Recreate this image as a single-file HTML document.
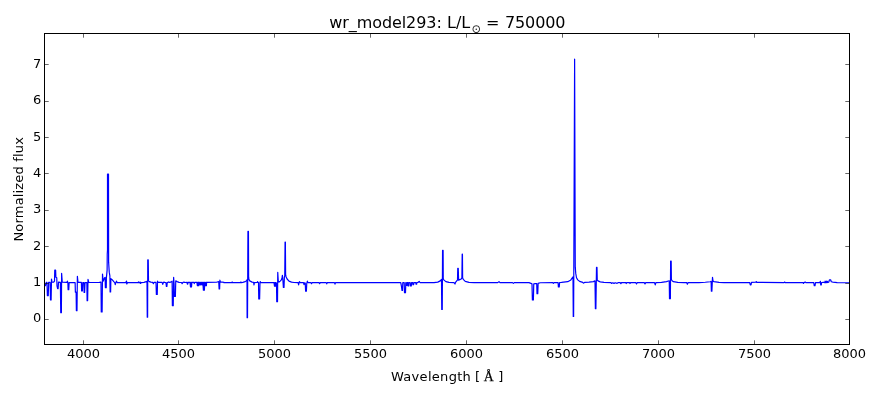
<!DOCTYPE html>
<html><head><meta charset="utf-8"><title>wr_model293</title>
<style>
html,body{margin:0;padding:0;background:#fff;}
body{width:880px;height:400px;overflow:hidden;}
svg{display:block;}
text{font-family:"DejaVu Sans","Liberation Sans",sans-serif;fill:#000;font-variant-ligatures:none;}
.t{font-size:13px;}
.ser{font-family:"DejaVu Serif","Liberation Serif",serif;}
</style></head><body>
<svg width="880" height="400" viewBox="0 0 880 400">
<rect x="0" y="0" width="880" height="400" fill="#fff"/>
<clipPath id="c"><rect x="44.5" y="33.5" width="805" height="311"/></clipPath>
<polyline clip-path="url(#c)" fill="none" stroke="#0000ff" stroke-width="1.2" stroke-linejoin="round" points="44.50,284.15 45.50,285.65 46.25,282.40 47.00,282.40 47.38,295.65 48.25,295.65 48.62,282.40 50.12,282.40 50.50,299.90 51.12,299.90 51.50,279.02 52.00,282.15 53.50,282.27 54.50,281.15 54.75,270.15 55.62,270.15 55.88,277.15 56.75,277.65 57.00,285.90 57.62,288.65 58.12,288.65 58.50,282.15 60.38,282.40 60.75,312.77 61.38,312.77 61.62,273.27 62.25,282.15 67.00,282.40 67.38,281.15 67.88,282.65 68.12,289.65 68.75,289.65 69.12,282.65 75.12,282.65 75.38,292.15 76.12,292.15 76.38,310.65 77.00,310.65 77.38,276.27 78.00,282.40 81.38,282.40 81.62,290.90 82.38,290.90 82.75,282.65 83.88,282.65 84.12,292.40 84.62,292.40 85.00,282.65 86.88,282.65 87.12,300.65 87.62,300.65 88.00,279.40 88.75,282.40 99.00,282.52 100.50,282.15 101.00,282.15 101.25,311.90 102.12,311.90 102.50,274.02 103.12,281.15 104.62,277.77 105.12,277.40 105.38,287.77 106.25,287.77 106.38,278.15 107.12,270.15 107.25,254.15 107.50,250.15 107.50,174.15 108.50,174.15 108.62,262.15 109.25,272.15 109.88,275.90 110.12,291.90 110.62,291.90 110.88,278.65 112.12,279.65 114.00,281.90 114.75,282.65 115.25,284.65 115.75,282.65 116.50,281.15 117.25,282.65 125.88,282.65 126.50,281.15 127.00,283.65 127.50,282.52 139.00,282.65 140.25,282.15 140.88,283.15 141.50,282.52 144.00,282.52 125.88,282.52 126.38,281.15 126.75,284.02 127.25,282.52 138.00,282.65 138.38,281.90 138.75,282.65 140.00,282.65 140.38,283.40 140.75,282.65 144.00,282.40 146.25,281.65 147.00,281.40 147.25,317.15 147.62,317.15 147.75,259.90 148.25,259.90 148.50,280.90 149.38,281.65 150.88,282.15 152.75,282.40 153.38,283.65 154.00,282.40 156.00,282.40 156.38,294.40 157.25,294.40 157.50,281.15 158.00,282.40 162.12,282.40 162.75,284.40 163.38,282.65 164.00,282.02 164.62,282.52 166.00,282.65 166.38,286.52 166.88,286.52 167.25,282.65 168.38,281.90 169.00,282.40 170.88,282.15 172.12,281.15 172.38,305.65 173.25,305.65 173.62,277.40 174.12,284.65 174.38,296.52 175.38,296.52 175.75,280.90 177.12,281.65 179.00,282.40 181.50,282.52 182.12,283.65 182.75,282.65 184.00,282.02 184.62,282.52 186.88,282.40 187.38,284.15 187.62,282.40 187.75,284.15 188.12,282.40 190.00,282.40 190.50,287.02 190.75,282.40 191.00,287.02 191.25,282.40 191.50,287.02 191.88,282.40 193.88,282.40 194.25,283.65 194.62,282.40 196.88,282.40 197.38,285.77 197.62,282.40 197.88,285.77 198.12,282.40 198.38,285.77 198.62,282.40 198.75,285.77 199.00,282.40 199.25,284.90 199.62,282.40 200.00,284.65 200.38,282.40 200.75,284.90 201.12,282.40 201.50,284.65 201.88,282.40 202.25,284.90 202.62,282.40 202.88,282.40 203.38,290.15 203.62,282.40 203.88,290.15 204.12,282.40 204.38,290.15 204.75,282.40 205.25,282.40 205.88,285.77 206.12,282.40 206.38,285.77 206.62,282.40 207.00,282.40 216.50,282.27 218.00,281.77 218.75,281.65 219.12,288.90 219.62,288.90 219.88,280.15 220.38,281.90 224.00,282.40 224.00,282.65 231.75,282.65 232.12,281.90 232.50,282.65 240.50,282.65 240.88,281.90 241.25,282.65 242.75,282.40 245.25,281.65 246.50,280.65 247.00,279.90 247.12,317.77 247.50,317.77 247.94,231.40 248.44,231.40 248.62,277.15 248.88,279.40 249.75,280.90 252.12,282.15 253.62,282.40 254.00,284.90 254.38,282.65 257.12,282.40 257.50,281.65 258.00,282.52 258.50,282.65 258.75,299.02 259.62,299.02 260.00,281.90 260.38,281.65 260.88,282.65 274.00,282.65 274.50,286.15 274.75,282.65 275.00,286.15 275.25,282.65 275.50,286.15 275.75,282.65 276.00,286.15 276.25,282.90 276.50,283.15 276.75,301.77 277.50,301.77 277.75,272.40 278.25,280.90 279.00,282.15 280.25,281.15 281.50,279.65 282.12,277.15 282.38,275.27 282.88,279.65 283.38,287.40 284.00,287.40 284.38,277.15 284.75,275.90 285.06,242.03 285.38,242.03 285.62,274.65 286.12,276.90 287.12,279.02 289.00,281.15 291.50,282.15 294.00,282.52 298.12,282.65 298.62,284.90 299.00,282.65 299.62,281.65 300.12,282.65 303.50,282.65 304.00,284.65 304.50,282.90 305.25,283.15 305.62,291.15 306.38,291.15 306.75,283.40 307.38,281.15 307.88,282.65 311.00,282.65 311.50,283.65 312.00,282.65 319.00,282.65 319.62,283.65 320.25,282.65 324.00,282.65 324.00,282.65 326.25,282.65 326.75,283.90 327.25,282.65 334.50,282.65 335.00,284.15 335.50,282.65 394.00,282.65 394.00,282.65 400.75,282.65 401.50,286.65 402.00,290.40 402.50,290.40 402.80,282.65 404.20,282.65 404.50,292.65 405.50,292.65 405.80,282.65 406.00,282.65 406.15,285.40 406.85,285.40 407.00,282.65 407.90,282.65 408.10,285.90 408.65,285.90 408.85,282.65 410.15,282.65 410.40,285.90 411.30,285.90 411.55,282.65 412.65,282.65 412.90,284.55 413.60,284.55 413.85,282.65 415.85,282.65 416.05,284.15 416.65,284.15 416.85,282.65 417.90,282.50 418.75,281.75 419.25,281.40 419.75,282.05 420.25,282.65 424.00,282.65 424.00,282.65 434.00,282.65 437.75,282.15 440.25,280.90 441.50,279.40 441.75,309.40 442.25,309.40 442.56,250.40 443.12,250.40 443.25,278.40 443.75,279.90 445.88,281.65 449.00,282.40 454.00,282.65 455.00,284.02 455.50,282.40 456.75,280.77 457.50,280.15 457.75,268.27 458.25,268.27 458.62,280.15 460.25,279.40 461.50,278.65 461.88,277.77 462.19,254.15 462.44,254.15 462.62,277.77 463.25,279.40 465.25,281.40 469.00,282.40 474.00,282.65 497.75,282.65 499.00,281.65 500.00,282.65 512.50,282.65 513.38,283.40 514.25,282.65 524.00,282.65 524.00,282.65 529.00,282.65 530.88,283.40 532.00,283.90 532.38,299.90 533.38,299.90 533.75,283.90 535.25,283.65 536.75,283.65 537.00,293.65 537.75,293.65 538.12,283.40 540.25,282.77 552.75,282.65 553.38,283.40 554.00,282.65 558.12,282.65 558.38,286.90 559.25,286.90 559.62,282.52 561.50,282.40 567.75,281.65 570.88,279.90 572.25,277.77 573.00,276.90 573.25,316.52 573.62,316.52 574.62,59.15 575.25,267.15 575.75,273.40 576.50,277.77 577.75,279.90 579.62,281.40 582.75,282.40 583.75,283.15 584.62,282.40 589.00,282.15 593.38,281.65 595.00,280.90 595.38,308.65 595.88,308.65 596.50,267.40 597.00,267.40 597.25,280.15 598.00,280.90 600.25,281.90 604.00,282.40 610.88,282.65 611.50,283.40 612.75,282.77 614.00,283.40 615.25,282.77 617.12,283.40 618.00,282.65 620.25,282.65 620.88,283.65 621.50,282.65 624.00,282.65 624.00,282.65 625.75,282.65 626.25,283.52 626.75,282.65 629.50,282.65 630.00,283.52 630.50,282.65 635.88,282.65 636.50,283.90 637.12,282.65 644.25,282.65 645.00,283.90 645.75,282.65 654.50,282.65 655.25,284.90 655.88,282.65 661.50,282.40 666.50,281.65 668.38,281.02 669.25,280.77 669.50,298.65 670.38,298.65 670.62,261.15 671.19,261.15 671.38,279.52 672.12,280.77 673.38,281.65 677.75,282.40 684.00,282.65 686.75,282.65 687.38,284.15 688.00,282.65 699.00,282.65 705.25,282.27 710.25,281.77 711.12,281.40 711.38,291.15 711.88,291.15 712.50,277.40 713.00,281.15 714.00,281.65 719.00,282.40 724.00,282.65 724.00,282.65 749.75,282.65 750.25,284.90 751.00,284.90 751.50,282.40 755.75,282.15 756.25,281.52 756.75,282.40 784.00,282.65 784.62,282.02 785.25,282.65 803.00,282.65 803.50,283.40 804.00,282.65 805.25,282.02 805.88,282.65 813.75,282.65 814.25,285.77 815.00,285.77 815.50,282.65 819.75,282.65 820.38,281.27 820.75,285.02 821.25,285.02 821.62,282.52 823.38,282.40 824.00,282.47 824.84,282.59 825.08,281.15 825.68,282.71 826.28,281.15 826.88,282.71 827.36,281.27 827.84,282.35 828.80,282.11 829.40,279.95 830.72,279.95 831.31,281.75 832.99,282.11 837.19,282.65 849.79,282.77"/>
<rect x="44.5" y="33.5" width="805" height="311" fill="none" stroke="#000" stroke-width="1"/>
<path d="M83.5,344.5v-4.2M83.5,33.5v4.2M178.5,344.5v-4.2M178.5,33.5v4.2M274.5,344.5v-4.2M274.5,33.5v4.2M370.5,344.5v-4.2M370.5,33.5v4.2M466.5,344.5v-4.2M466.5,33.5v4.2M562.5,344.5v-4.2M562.5,33.5v4.2M658.5,344.5v-4.2M658.5,33.5v4.2M754.5,344.5v-4.2M754.5,33.5v4.2M44.5,319.5h4.2M849.5,319.5h-4.2M44.5,283.5h4.2M849.5,283.5h-4.2M44.5,246.5h4.2M849.5,246.5h-4.2M44.5,210.5h4.2M849.5,210.5h-4.2M44.5,173.5h4.2M849.5,173.5h-4.2M44.5,137.5h4.2M849.5,137.5h-4.2M44.5,101.5h4.2M849.5,101.5h-4.2M44.5,64.5h4.2M849.5,64.5h-4.2" stroke="#000" stroke-width="0.6" fill="none"/>
<text class="t" x="83.5" y="357.8" text-anchor="middle">4000</text>
<text class="t" x="178.5" y="357.8" text-anchor="middle">4500</text>
<text class="t" x="274.5" y="357.8" text-anchor="middle">5000</text>
<text class="t" x="370.5" y="357.8" text-anchor="middle">5500</text>
<text class="t" x="466.5" y="357.8" text-anchor="middle">6000</text>
<text class="t" x="562.5" y="357.8" text-anchor="middle">6500</text>
<text class="t" x="658.5" y="357.8" text-anchor="middle">7000</text>
<text class="t" x="754.5" y="357.8" text-anchor="middle">7500</text>
<text class="t" x="849.5" y="357.8" text-anchor="middle">8000</text>
<text class="t" x="41.4" y="322" text-anchor="end">0</text>
<text class="t" x="41.4" y="286" text-anchor="end">1</text>
<text class="t" x="41.4" y="250" text-anchor="end">2</text>
<text class="t" x="41.4" y="213" text-anchor="end">3</text>
<text class="t" x="41.4" y="177" text-anchor="end">4</text>
<text class="t" x="41.4" y="141" text-anchor="end">5</text>
<text class="t" x="41.4" y="104" text-anchor="end">6</text>
<text class="t" x="41.4" y="68" text-anchor="end">7</text>
<text y="27.6" style="font-size:16px"><tspan x="329.20" letter-spacing="-0.07">wr_model293:</tspan><tspan x="447.00">L/L</tspan></text>
<text x="471.15" y="33.2" style="font-size:12px;fill:#333" class="ser">&#x2299;</text>
<text y="27.6" style="font-size:16px"><tspan x="486.00">=</tspan><tspan x="504.95" letter-spacing="-0.1">750000</tspan></text>
<text class="t" y="381"><tspan x="391.0" letter-spacing="0.3">Wavelength</tspan><tspan x="474.9">[</tspan><tspan x="498.15">]</tspan></text>
<text x="483.7" y="381" style="font-size:13.8px;font-family:'Liberation Serif',serif;stroke:#000;stroke-width:0.25px">&#197;</text>
<text class="t" transform="translate(23,189.2) rotate(-90)" text-anchor="middle" letter-spacing="0.18">Normalized flux</text>
</svg></body></html>
